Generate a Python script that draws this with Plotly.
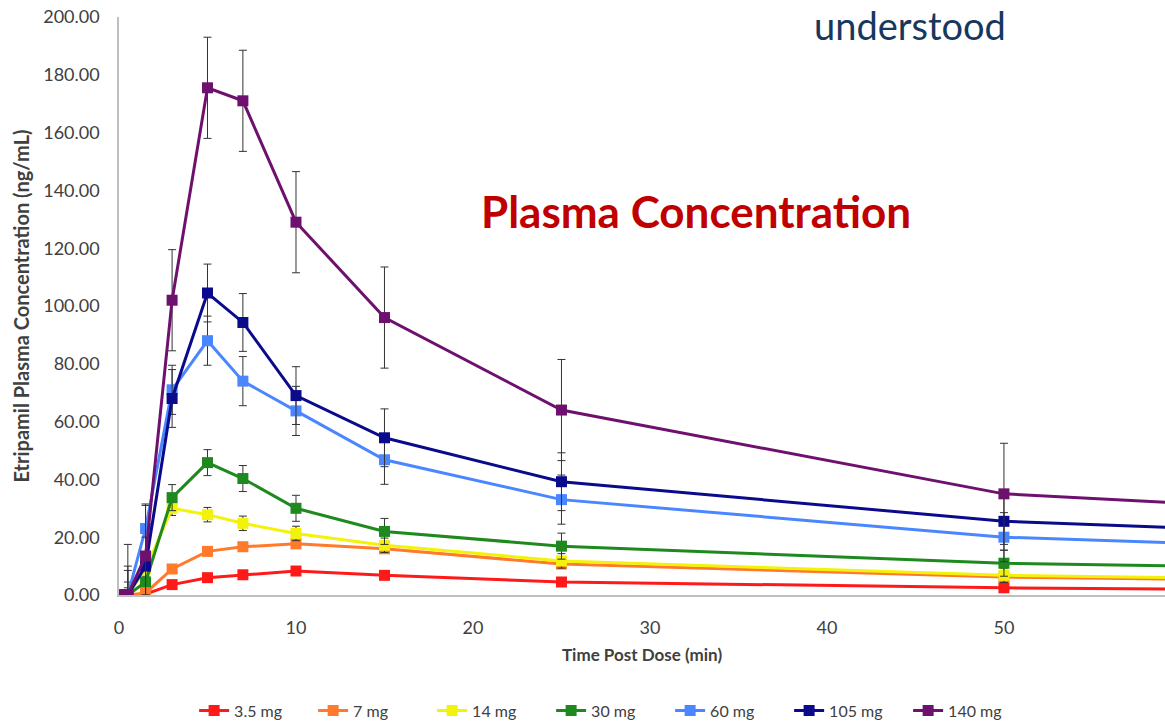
import plotly.graph_objects as go

# Sampling times (min) and mean plasma concentrations (ng/mL) per dose
time_min = [0, 0.5, 1.5, 3, 5, 7, 10, 15, 25, 50, 60]

dose_labels = ["3.5 mg", "7 mg", "14 mg", "30 mg", "60 mg", "105 mg", "140 mg"]
dose_colors = ["#FF1A1A", "#FF7A2A", "#F2F20A", "#1E8A1E", "#4A86FF", "#0A0A8C", "#6E116E"]

conc_3_5 = [0, 0, 0.3, 3.6, 6.0, 7.0, 8.3, 6.8, 4.5, 2.5, 2.0]
conc_7 = [0, 0, 0.7, 9.0, 15.1, 16.7, 17.7, 16.0, 10.7, 6.2, 5.5]
conc_14 = [0, 0, 9.0, 30.0, 27.8, 24.8, 21.3, 17.2, 11.8, 6.8, 6.0]
conc_30 = [0, 0, 4.5, 33.7, 45.8, 40.3, 30.0, 22.0, 16.9, 11.0, 10.0]
conc_60 = [0, 0, 23.0, 71.0, 88.0, 74.0, 63.7, 46.8, 33.0, 20.0, 18.0]
conc_105 = [0, 0, 10.0, 68.0, 104.5, 94.3, 69.0, 54.4, 39.2, 25.5, 23.2]
conc_140 = [0, 0, 13.5, 102.0, 175.5, 171.0, 129.0, 96.0, 64.0, 35.0, 31.8]

# Standard deviations (ng/mL)
sd_3_5 = [0, 1.0, 1.0, 1.0, 1.0, 1.0, 1.0, 1.0, 1.0, 1.0, 1.0]
sd_7 = [0, 1.5, 1.5, 1.5, 1.5, 1.5, 1.5, 1.5, 1.5, 1.5, 1.5]
sd_14 = [0, 2.5, 2.5, 2.5, 2.5, 2.5, 2.5, 2.5, 2.5, 2.5, 2.5]
sd_30 = [0, 4.5, 4.5, 4.5, 4.5, 4.5, 4.5, 4.5, 4.5, 4.5, 4.5]
sd_60 = [0, 8.5, 8.5, 8.5, 8.5, 8.5, 8.5, 8.5, 8.5, 8.5, 8.5]
sd_105 = [0, 10.0, 10.0, 10.0, 10.0, 10.0, 10.0, 10.0, 10.0, 10.0, 10.0]
sd_140 = [0, 17.5, 17.5, 17.5, 17.5, 17.5, 17.5, 17.5, 17.5, 17.5, 17.5]

concentrations = [conc_3_5, conc_7, conc_14, conc_30, conc_60, conc_105, conc_140]
deviations = [sd_3_5, sd_7, sd_14, sd_30, sd_60, sd_105, sd_140]

x_ticks = [0, 10, 20, 30, 40, 50]
y_ticks = [0, 20, 40, 60, 80, 100, 120, 140, 160, 180, 200]

FONT = "Lato"
TEXT_GRAY = "#404040"

fig = go.Figure()
for label, color, conc, sd in zip(dose_labels, dose_colors, concentrations, deviations):
    fig.add_trace(go.Scatter(
        x=time_min, y=conc, name=label, mode="lines+markers",
        line=dict(color=color, width=3),
        marker=dict(symbol="square", size=11, color=color),
        error_y=dict(type="data", array=sd, visible=True,
                     color="#333333", thickness=1, width=4),
    ))

fig.update_layout(
    width=1165, height=728,
    margin=dict(l=119, r=0, t=17, b=130),
    paper_bgcolor="white", plot_bgcolor="white",
    font=dict(family=FONT, color=TEXT_GRAY),
    showlegend=True,
    legend=dict(orientation="h", x=0.47, xanchor="center", y=-0.2, yanchor="middle",
                font=dict(size=16, color=TEXT_GRAY), traceorder="normal",
                entrywidth=74),
    xaxis=dict(range=[0, 59.1], tickvals=x_ticks, showgrid=False, zeroline=False,
               showline=True, linecolor="#BFBFBF", linewidth=1.5,
               ticks="outside", ticklen=16, tickcolor="rgba(0,0,0,0)",
               tickfont=dict(size=18, color=TEXT_GRAY),
               title=dict(text="<b>Time Post Dose (min)</b>", font=dict(size=17, color=TEXT_GRAY),
                          standoff=12)),
    yaxis=dict(range=[0, 200], tickvals=y_ticks, tickformat=".2f", showgrid=False,
               zeroline=False, showline=True, linecolor="#BFBFBF", linewidth=1.5, ticks="",
               ticklabelstandoff=14,
               tickfont=dict(size=18, color=TEXT_GRAY),
               title=dict(text="<b>Etripamil Plasma Concentration (ng/mL)</b>",
                          font=dict(size=20, color=TEXT_GRAY), standoff=8)),
    annotations=[
        dict(text="<b>Plasma Concentration</b>", x=0.552, y=0.665, xref="paper", yref="paper",
             showarrow=False, font=dict(family=FONT, size=44, color="#C00000"),
             xanchor="center", yanchor="middle"),
        dict(text="understood", x=0.756, y=1.029, xref="paper", yref="paper",
             showarrow=False, font=dict(family=FONT, size=38, color="#17375E"),
             xanchor="center", yanchor="top"),
    ],
)

fig.write_html("out.html")
